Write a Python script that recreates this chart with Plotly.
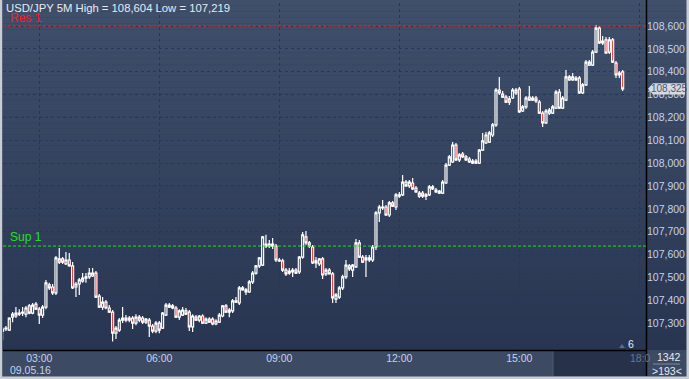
import plotly.graph_objects as go
import pandas as pd

# ---------------- data (USD/JPY, 5-minute bars, 09.05.16) ----------------
times = pd.date_range("2016-05-09 02:05", periods=187, freq="5min")

open_ = [
    107.265, 107.274, 107.269, 107.326, 107.331, 107.339, 107.344, 107.339, 107.375, 107.344,
    107.383, 107.361, 107.335, 107.370, 107.467, 107.458, 107.432, 107.567, 107.581, 107.559,
    107.576, 107.550, 107.458, 107.471, 107.484, 107.497, 107.502, 107.506, 107.519, 107.418,
    107.370, 107.392, 107.366, 107.348, 107.256, 107.269, 107.313, 107.313, 107.322, 107.322,
    107.300, 107.313, 107.322, 107.304, 107.313, 107.287, 107.265, 107.300, 107.278, 107.335,
    107.370, 107.375, 107.366, 107.326, 107.335, 107.353, 107.348, 107.283, 107.326, 107.313,
    107.331, 107.300, 107.317, 107.317, 107.296, 107.304, 107.331, 107.375, 107.357, 107.353,
    107.392, 107.388, 107.454, 107.445, 107.436, 107.480, 107.519, 107.550, 107.554, 107.637,
    107.646, 107.637, 107.637, 107.572, 107.572, 107.532, 107.519, 107.524, 107.532, 107.524,
    107.589, 107.677, 107.651, 107.633, 107.563, 107.559, 107.581, 107.515, 107.532, 107.515,
    107.405, 107.414, 107.454, 107.502, 107.550, 107.532, 107.546, 107.651, 107.589, 107.576,
    107.576, 107.576, 107.633, 107.782, 107.804, 107.808, 107.773, 107.826, 107.808, 107.856,
    107.861, 107.917, 107.900, 107.913, 107.891, 107.856, 107.869, 107.856, 107.861, 107.896,
    107.882, 107.869, 107.869, 107.913, 107.991, 108.005, 108.079, 108.014, 108.040, 108.027,
    108.018, 108.000, 108.009, 108.000, 108.057, 108.088, 108.092, 108.123, 108.167, 108.320,
    108.302, 108.289, 108.267, 108.285, 108.307, 108.324, 108.228, 108.246, 108.289, 108.276,
    108.285, 108.267, 108.219, 108.176, 108.219, 108.219, 108.241, 108.311, 108.241, 108.276,
    108.364, 108.364, 108.364, 108.372, 108.307, 108.342, 108.429, 108.429, 108.486, 108.591,
    108.526, 108.539, 108.486, 108.539, 108.438, 108.386, 108.399,
]
high = [
    107.283, 107.287, 107.326, 107.348, 107.370, 107.361, 107.370, 107.375, 107.383, 107.388,
    107.392, 107.370, 107.379, 107.489, 107.476, 107.471, 107.594, 107.629, 107.589, 107.611,
    107.607, 107.567, 107.480, 107.497, 107.519, 107.519, 107.541, 107.541, 107.528, 107.427,
    107.414, 107.401, 107.379, 107.357, 107.287, 107.322, 107.370, 107.335, 107.331, 107.331,
    107.339, 107.335, 107.331, 107.322, 107.322, 107.296, 107.309, 107.309, 107.348, 107.388,
    107.388, 107.383, 107.375, 107.361, 107.370, 107.366, 107.357, 107.339, 107.335, 107.335,
    107.339, 107.326, 107.326, 107.326, 107.317, 107.344, 107.379, 107.383, 107.366, 107.405,
    107.414, 107.462, 107.462, 107.454, 107.489, 107.528, 107.554, 107.589, 107.681, 107.686,
    107.664, 107.672, 107.646, 107.585, 107.581, 107.541, 107.541, 107.541, 107.541, 107.594,
    107.699, 107.703, 107.659, 107.642, 107.589, 107.585, 107.589, 107.541, 107.541, 107.524,
    107.432, 107.462, 107.511, 107.576, 107.559, 107.559, 107.668, 107.664, 107.598, 107.598,
    107.598, 107.642, 107.791, 107.817, 107.839, 107.817, 107.834, 107.834, 107.869, 107.874,
    107.948, 107.926, 107.926, 107.935, 107.900, 107.878, 107.878, 107.869, 107.904, 107.904,
    107.891, 107.882, 107.926, 108.000, 108.036, 108.092, 108.088, 108.044, 108.049, 108.036,
    108.027, 108.018, 108.018, 108.062, 108.132, 108.136, 108.141, 108.176, 108.329, 108.377,
    108.316, 108.298, 108.294, 108.329, 108.329, 108.333, 108.254, 108.294, 108.337, 108.294,
    108.294, 108.276, 108.228, 108.237, 108.241, 108.254, 108.320, 108.324, 108.294, 108.407,
    108.386, 108.394, 108.381, 108.381, 108.351, 108.451, 108.451, 108.495, 108.604, 108.600,
    108.556, 108.552, 108.552, 108.547, 108.447, 108.403, 108.407,
]
low = [
    107.226, 107.265, 107.265, 107.304, 107.322, 107.331, 107.331, 107.326, 107.339, 107.339,
    107.357, 107.296, 107.322, 107.361, 107.445, 107.423, 107.423, 107.559, 107.559, 107.554,
    107.546, 107.449, 107.414, 107.423, 107.476, 107.476, 107.493, 107.502, 107.410, 107.366,
    107.357, 107.361, 107.344, 107.219, 107.230, 107.261, 107.300, 107.304, 107.304, 107.274,
    107.291, 107.304, 107.296, 107.296, 107.239, 107.256, 107.256, 107.256, 107.274, 107.331,
    107.366, 107.361, 107.322, 107.313, 107.331, 107.335, 107.265, 107.261, 107.309, 107.304,
    107.296, 107.296, 107.300, 107.291, 107.291, 107.300, 107.326, 107.344, 107.326, 107.344,
    107.388, 107.379, 107.441, 107.423, 107.432, 107.471, 107.511, 107.541, 107.550, 107.629,
    107.629, 107.624, 107.567, 107.567, 107.524, 107.506, 107.511, 107.502, 107.515, 107.515,
    107.581, 107.642, 107.629, 107.559, 107.541, 107.550, 107.493, 107.506, 107.511, 107.388,
    107.388, 107.405, 107.445, 107.493, 107.528, 107.502, 107.541, 107.585, 107.563, 107.502,
    107.567, 107.567, 107.620, 107.742, 107.795, 107.769, 107.764, 107.808, 107.795, 107.847,
    107.856, 107.896, 107.891, 107.882, 107.869, 107.847, 107.847, 107.839, 107.856, 107.882,
    107.869, 107.865, 107.865, 107.909, 107.987, 108.000, 108.009, 108.005, 108.022, 108.009,
    108.000, 107.996, 107.996, 107.996, 108.053, 108.084, 108.088, 108.114, 108.158, 108.298,
    108.285, 108.263, 108.254, 108.281, 108.298, 108.219, 108.224, 108.237, 108.272, 108.272,
    108.263, 108.215, 108.158, 108.171, 108.211, 108.215, 108.237, 108.237, 108.237, 108.272,
    108.359, 108.359, 108.359, 108.302, 108.302, 108.337, 108.425, 108.425, 108.482, 108.521,
    108.517, 108.477, 108.477, 108.438, 108.372, 108.372, 108.316,
]
close = [
    107.274, 107.278, 107.322, 107.339, 107.344, 107.344, 107.348, 107.366, 107.344, 107.379,
    107.361, 107.335, 107.370, 107.476, 107.454, 107.432, 107.585, 107.581, 107.567, 107.576,
    107.550, 107.454, 107.471, 107.489, 107.497, 107.502, 107.519, 107.519, 107.414, 107.370,
    107.392, 107.366, 107.348, 107.256, 107.278, 107.313, 107.322, 107.322, 107.313, 107.300,
    107.326, 107.326, 107.304, 107.317, 107.287, 107.265, 107.300, 107.269, 107.344, 107.379,
    107.379, 107.366, 107.326, 107.353, 107.357, 107.339, 107.283, 107.331, 107.313, 107.331,
    107.300, 107.317, 107.304, 107.296, 107.309, 107.335, 107.375, 107.348, 107.348, 107.397,
    107.397, 107.454, 107.445, 107.436, 107.480, 107.519, 107.550, 107.585, 107.677, 107.646,
    107.637, 107.646, 107.576, 107.576, 107.532, 107.515, 107.528, 107.532, 107.519, 107.589,
    107.686, 107.651, 107.637, 107.563, 107.572, 107.581, 107.511, 107.532, 107.515, 107.410,
    107.423, 107.454, 107.502, 107.554, 107.537, 107.554, 107.651, 107.589, 107.567, 107.585,
    107.585, 107.633, 107.782, 107.808, 107.808, 107.773, 107.826, 107.812, 107.861, 107.861,
    107.917, 107.900, 107.917, 107.887, 107.874, 107.869, 107.856, 107.861, 107.896, 107.887,
    107.874, 107.878, 107.917, 107.991, 108.027, 108.079, 108.014, 108.036, 108.027, 108.014,
    108.005, 108.009, 108.000, 108.057, 108.097, 108.123, 108.132, 108.167, 108.320, 108.307,
    108.289, 108.267, 108.281, 108.320, 108.320, 108.224, 108.246, 108.285, 108.276, 108.285,
    108.272, 108.219, 108.176, 108.228, 108.232, 108.246, 108.311, 108.241, 108.285, 108.377,
    108.377, 108.377, 108.372, 108.307, 108.342, 108.442, 108.442, 108.486, 108.591, 108.526,
    108.534, 108.482, 108.539, 108.442, 108.386, 108.394, 108.325,
]

res_level = 108.600
sup_level = 107.637
y_ticks = [107.3, 107.4, 107.5, 107.6, 107.7, 107.8, 107.9, 108.0,
           108.1, 108.2, 108.3, 108.4, 108.5, 108.6]
x_ticks = ["2016-05-09 03:00", "2016-05-09 06:00", "2016-05-09 09:00",
           "2016-05-09 12:00", "2016-05-09 15:00", "2016-05-09 18:00"]
x_labels = ["03:00", "06:00", "09:00", "12:00", "15:00", ""]
title_text = "USD/JPY 5M High = 108,604 Low = 107,219"
bars_total = "1342"
bars_visible = ">193<"

# ---------------- geometry helpers (pixels -> paper) ----------------
W, H = 689, 379
ML, MR, MT, MB = 3, 43, 3, 29
PW = W - ML - MR
PH = H - MT - MB
def fx(x):
    return (x - ML) / PW
def fy(y):
    return (H - MB - y) / PH

FONT = "Liberation Sans, Arial, sans-serif"
LBL = "#c3d3ec"

fig = go.Figure()
fig.add_trace(go.Candlestick(
    x=times, open=open_, high=high, low=low, close=close,
    increasing=dict(line=dict(color="#ffffff", width=1.2), fillcolor="rgba(0,0,0,0)"),
    decreasing=dict(line=dict(color="#ffffff", width=1.2), fillcolor="#ff0000"),
    whiskerwidth=0, hoverinfo="skip", showlegend=False,
))

shapes = []
# vertical gradient background
top_c = (64, 80, 107)
bot_c = (40, 53, 81)
N = 60
for k in range(N):
    t = (k + 0.5) / N
    c = tuple(int(round(top_c[j] + (bot_c[j] - top_c[j]) * t)) for j in range(3))
    shapes.append(dict(type="rect", xref="paper", yref="paper", layer="below",
                       x0=fx(0), x1=fx(W), y0=fy(350 * (k + 1) / N), y1=fy(350 * k / N),
                       line=dict(width=0), fillcolor="rgb(%d,%d,%d)" % c))
# bottom axis strip
shapes.append(dict(type="rect", xref="paper", yref="paper", layer="below",
                   x0=fx(0), x1=fx(W), y0=fy(377), y1=fy(350),
                   line=dict(width=0), fillcolor="#3d4a63"))
shapes.append(dict(type="rect", xref="paper", yref="paper", layer="below",
                   x0=fx(553), x1=fx(646), y0=fy(376), y1=fy(350),
                   line=dict(width=0), fillcolor="#27324a"))
shapes.append(dict(type="line", xref="paper", yref="paper", layer="below",
                   x0=fx(553), x1=fx(553), y0=fy(376), y1=fy(351),
                   line=dict(width=1, color="#4d5a73")))
# axis lines
shapes.append(dict(type="line", xref="paper", yref="paper",
                   x0=fx(3), x1=fx(646.5), y0=fy(350.5), y1=fy(350.5),
                   line=dict(width=1.5, color="#000000")))
shapes.append(dict(type="line", xref="paper", yref="paper",
                   x0=fx(646.5), x1=fx(646.5), y0=fy(376), y1=fy(0),
                   line=dict(width=1.5, color="#000000")))
# window border
shapes.append(dict(type="rect", xref="paper", yref="paper",
                   x0=fx(0), x1=fx(2.2), y0=fy(379), y1=fy(0),
                   line=dict(width=0), fillcolor="#c8ccd3"))
shapes.append(dict(type="rect", xref="paper", yref="paper",
                   x0=fx(686.5), x1=fx(689), y0=fy(379), y1=fy(0),
                   line=dict(width=0), fillcolor="#c8ccd3"))
shapes.append(dict(type="rect", xref="paper", yref="paper",
                   x0=fx(0), x1=fx(689), y0=fy(379), y1=fy(376.5),
                   line=dict(width=0), fillcolor="#c8ccd3"))
# resistance / support
shapes.append(dict(type="line", xref="paper", yref="y", x0=0, x1=1,
                   y0=res_level, y1=res_level,
                   line=dict(width=1, color="#ff1a1a", dash="3px,2px")))
shapes.append(dict(type="line", xref="paper", yref="y", x0=0, x1=1,
                   y0=sup_level, y1=sup_level,
                   line=dict(width=1, color="#1ee01e", dash="3px,2px")))
# last price marker
last = close[-1]
hh = 0.0245
shapes.append(dict(type="path", xref="paper", yref="y",
                   path="M %f,%f L %f,%f L %f,%f L %f,%f L %f,%f Z" % (
                       fx(648), last, fx(653), last + hh, fx(685), last + hh,
                       fx(685), last - hh, fx(653), last - hh),
                   line=dict(width=0), fillcolor="#d5d9e0"))
# underline in corner box
shapes.append(dict(type="line", xref="paper", yref="paper",
                   x0=fx(653), x1=fx(680), y0=fy(364), y1=fy(364),
                   line=dict(width=1, color="#7d8aa0")))
# small scroll triangle
shapes.append(dict(type="path", xref="paper", yref="paper",
                   path="M %f,%f L %f,%f L %f,%f Z" % (fx(619), fy(348), fx(625), fy(348), fx(622), fy(344)),
                   line=dict(width=0), fillcolor="#5e6b84"))

ann = []
ann.append(dict(text=title_text, x=fx(4), y=fy(8), xref="paper", yref="paper",
                xanchor="left", yanchor="middle", showarrow=False,
                font=dict(family=FONT, size=11.3, color="#e6ebf3")))
ann.append(dict(text="Res 1", x=fx(7.5), y=fy(18), xref="paper", yref="paper",
                xanchor="left", yanchor="middle", showarrow=False,
                font=dict(family=FONT, size=12, color="#ff1a1a")))
ann.append(dict(text="Sup 1", x=fx(7.5), y=fy(237), xref="paper", yref="paper",
                xanchor="left", yanchor="middle", showarrow=False,
                font=dict(family=FONT, size=12, color="#1ee01e")))
ann.append(dict(text="09.05.16", x=fx(8), y=fy(370), xref="paper", yref="paper",
                xanchor="left", yanchor="middle", showarrow=False,
                font=dict(family=FONT, size=10.5, color=LBL)))
ann.append(dict(text="18:0", x=fx(628), y=fy(358), xref="paper", yref="paper",
                xanchor="left", yanchor="middle", showarrow=False,
                font=dict(family=FONT, size=10.5, color="#687690")))
ann.append(dict(text="6", x=fx(631), y=fy(344), xref="paper", yref="paper",
                xanchor="center", yanchor="middle", showarrow=False,
                font=dict(family=FONT, size=10.5, color="#e6ebf3")))
ann.append(dict(text=bars_total, x=fx(669), y=fy(357), xref="paper", yref="paper",
                xanchor="center", yanchor="middle", showarrow=False,
                font=dict(family=FONT, size=10.5, color="#e6ebf3")))
ann.append(dict(text=bars_visible, x=fx(667), y=fy(370.5), xref="paper", yref="paper",
                xanchor="center", yanchor="middle", showarrow=False,
                font=dict(family=FONT, size=10.5, color="#e6ebf3")))
ann.append(dict(text=f"{last:.3f}".replace(".", ","), x=fx(669), y=last, xref="paper", yref="y",
                xanchor="center", yanchor="middle", showarrow=False,
                font=dict(family=FONT, size=10, color="#4a5874")))

fig.update_layout(
    width=W, height=H,
    margin=dict(l=ML, r=MR, t=MT, b=MB, pad=0),
    paper_bgcolor="#2f3c58", plot_bgcolor="rgba(0,0,0,0)",
    separators=",.",
    showlegend=False,
    boxgap=0.15,
    shapes=shapes, annotations=ann,
    xaxis=dict(
        type="date",
        range=["2016-05-09 02:05:36", "2016-05-09 18:10:00"],
        rangeslider=dict(visible=False),
        tickvals=x_ticks, ticktext=x_labels,
        showgrid=True, gridcolor="#1f3963", griddash="3px,3px", gridwidth=1,
        zeroline=False, showline=False, ticks="",
        tickfont=dict(family=FONT, size=10.5, color=LBL),
        fixedrange=True,
    ),
    yaxis=dict(
        side="right",
        range=[107.1822, 108.7007],
        tickvals=y_ticks, tickformat=".3f",
        showgrid=True, gridcolor="#1f3963", griddash="3px,3px", gridwidth=1,
        zeroline=False, showline=False, ticks="",
        tickfont=dict(family=FONT, size=10.5, color=LBL),
        fixedrange=True,
    ),
)

fig.write_html(
    "out.html",
    config={"displayModeBar": False},
    post_script="document.body.style.margin='0';document.body.style.padding='0';document.body.style.overflow='hidden';",
)
